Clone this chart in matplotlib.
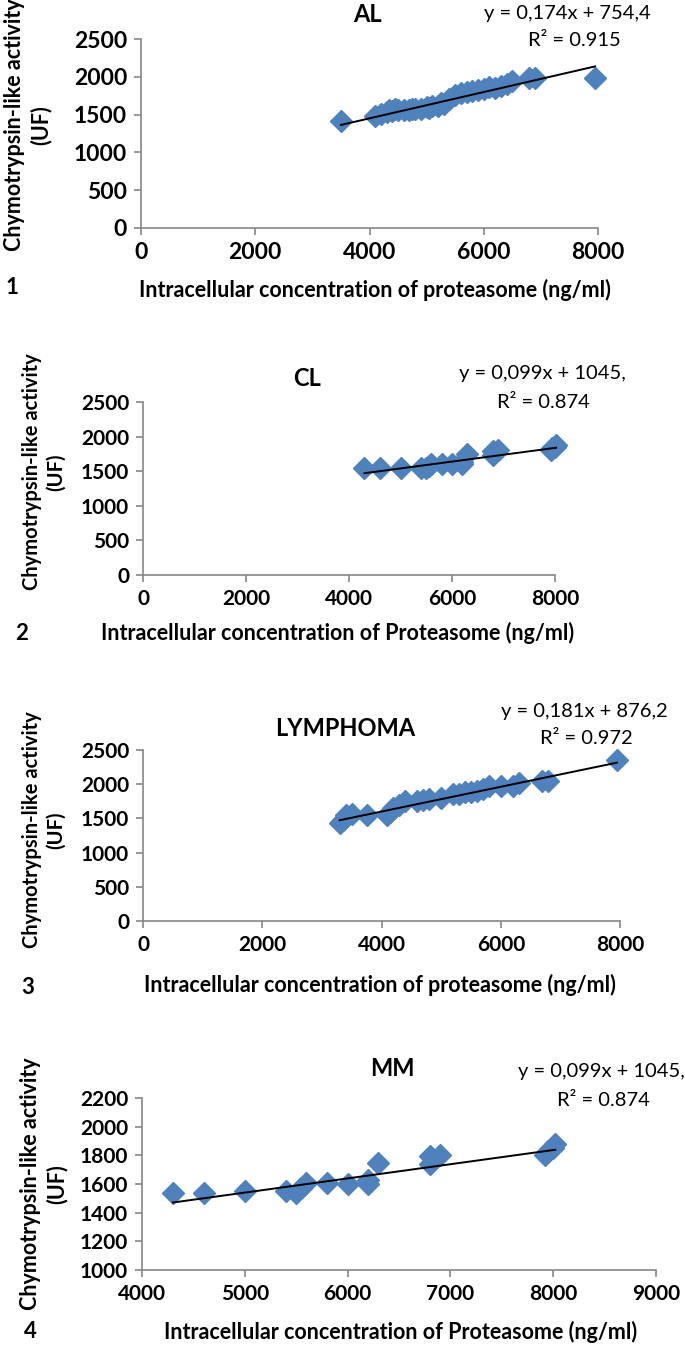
import matplotlib
matplotlib.use("Agg")
import matplotlib.pyplot as plt
import numpy as np

plt.rcParams['font.family'] = ['Lato', 'DejaVu Sans']

# data
al_x = [3500, 4100, 4200, 4300, 4350, 4400, 4450, 4500, 4600, 4700, 4750, 4800, 4900,
        5000, 5050, 5100, 5200, 5250, 5300, 5400, 5500, 5600, 5700, 5800, 5900, 6000,
        6100, 6200, 6300, 6400, 6500, 6800, 6900, 7950]
al_y = [1410, 1480, 1510, 1540, 1560, 1550, 1570, 1560, 1560, 1565, 1570, 1575, 1580,
        1600, 1590, 1610, 1620, 1650, 1640, 1700, 1760, 1780, 1800, 1810, 1820, 1840,
        1860, 1850, 1880, 1900, 1950, 1980, 1990, 1990]

cl_x = [4300, 4600, 5000, 5400, 5500, 5550, 5600, 5800, 6000, 6200, 6200, 6300,
        6800, 6800, 6900, 7920, 7950, 8000, 8020]
cl_y = [1540, 1540, 1550, 1550, 1540, 1570, 1605, 1605, 1600, 1600, 1630, 1745,
        1740, 1795, 1805, 1800, 1830, 1850, 1880]

ly_x = [3300, 3350, 3400, 3500, 3750, 4100, 4150, 4200, 4300, 4400, 4600, 4700, 4800,
        5000, 5200, 5300, 5400, 5500, 5600, 5700, 5800, 6000, 6200, 6300, 6700, 6800, 7950]
ly_y = [1440, 1470, 1550, 1560, 1550, 1550, 1600, 1650, 1700, 1750, 1760, 1770, 1780,
        1800, 1850, 1860, 1880, 1880, 1900, 1930, 1970, 1980, 1980, 2020, 2040, 2040, 2350]

mm_x = [4300, 4600, 5000, 5400, 5500, 5550, 5600, 5800, 6000, 6200, 6200, 6300,
        6800, 6800, 6900, 7920, 7950, 8000, 8020]
mm_y = [1540, 1540, 1550, 1550, 1540, 1570, 1605, 1605, 1600, 1600, 1630, 1745,
        1740, 1795, 1805, 1800, 1830, 1850, 1880]

titles = ["AL", "CL", "LYMPHOMA", "MM"]
slopes = [0.174, 0.099, 0.181, 0.099]
intercepts = [754.4, 1045, 876.2, 1045]
equations = ["y = 0,174x + 754,4", "y = 0,099x + 1045,", "y = 0,181x + 876,2", "y = 0,099x + 1045,"]
r2_labels = ["R² = 0.915", "R² = 0.874", "R² = 0.972", "R² = 0.874"]
xlabels = ["Intracellular concentration of proteasome (ng/ml)",
           "Intracellular concentration of Proteasome (ng/ml)",
           "Intracellular concentration of proteasome (ng/ml)",
           "Intracellular concentration of Proteasome (ng/ml)"]
panel_nums = ["1", "2", "3", "4"]
ylabel = "Chymotrypsin-like activity\n(UF)"

xs = [al_x, cl_x, ly_x, mm_x]
ys = [al_y, cl_y, ly_y, mm_y]

W, H = 685, 1346
fig = plt.figure(figsize=(W / 100, H / 100), dpi=100)


def fx(x):
    return x / W


def fy(y):
    return 1 - y / H


# layout in pixels: axes box, title, equation, r2, xlabel, number, ylabel
boxes = [(141, 39, 598, 228), (143, 402, 555, 575), (143, 750, 620, 921), (142, 1098, 656, 1270)]
xlims = [(0, 8000), (0, 8000), (0, 8000), (4000, 9000)]
ylims = [(0, 2500), (0, 2500), (0, 2500), (1000, 2200)]
xsteps = [2000, 2000, 2000, 1000]
ysteps = [500, 500, 500, 200]
title_pos = [(367, 14), (307, 378), (345, 728), (392, 1068)]
eq_pos = [(567, 14), (542, 373), (584, 712), (601, 1072)]
r2_pos = [(574, 41), (543, 402), (586, 738), (603, 1100)]
xl_pos = [(375, 290), (338, 633), (380, 985), (401, 1332)]
num_pos = [(12, 287), (22, 633), (28, 988), (30, 1332)]
yl_pos = [(28, 125), (44, 472), (44, 830), (44, 1184)]
yl_fs = [15.5, 14.5, 14.5, 15.5]
tick_fs = [16.5, 15, 15, 15]

grey = "#868686"
blue = "#4F81BD"

for i in range(4):
    l, t, r, b = boxes[i]
    ax = fig.add_axes([fx(l), fy(b), (r - l) / W, (b - t) / H])
    ax.plot(xs[i], ys[i], linestyle="none", marker="D", markersize=11.5,
            color=blue, markeredgecolor=blue, zorder=2, clip_on=False)
    lx = np.array([min(xs[i]), max(xs[i])])
    ax.plot(lx, slopes[i] * lx + intercepts[i], color="black", lw=1.4, zorder=3,
            clip_on=False)
    ax.set_xlim(*xlims[i])
    ax.set_ylim(*ylims[i])
    ax.set_xticks(np.arange(xlims[i][0], xlims[i][1] + 1, xsteps[i]))
    ax.set_yticks(np.arange(ylims[i][0], ylims[i][1] + 1, ysteps[i]))
    for s in ["top", "right"]:
        ax.spines[s].set_visible(False)
    for s in ["left", "bottom"]:
        ax.spines[s].set_color(grey)
        ax.spines[s].set_linewidth(1.2)
    ax.tick_params(direction="out", length=5, width=1.2, color=grey,
                   labelsize=tick_fs[i], pad=5)
    for lab in ax.get_xticklabels() + ax.get_yticklabels():
        lab.set_fontweight("bold")
    ax.patch.set_alpha(0)

    fig.text(fx(title_pos[i][0]), fy(title_pos[i][1]), titles[i], ha="center", va="center",
             fontsize=17, fontweight="bold")
    fig.text(fx(eq_pos[i][0]), fy(eq_pos[i][1]), equations[i], ha="center", va="center",
             fontsize=14.5)
    fig.text(fx(r2_pos[i][0]), fy(r2_pos[i][1]), r2_labels[i], ha="center", va="center",
             fontsize=14.5)
    fig.text(fx(xl_pos[i][0]), fy(xl_pos[i][1]), xlabels[i], ha="center", va="center",
             fontsize=15.5, fontweight="bold")
    fig.text(fx(num_pos[i][0]), fy(num_pos[i][1]), panel_nums[i], ha="center", va="center",
             fontsize=16, fontweight="bold")
    fig.text(fx(yl_pos[i][0]), fy(yl_pos[i][1]), ylabel, ha="center", va="center",
             rotation=90, multialignment="center", fontsize=yl_fs[i], fontweight="bold",
             linespacing=1.25)

fig.savefig("out.png", dpi=100)
